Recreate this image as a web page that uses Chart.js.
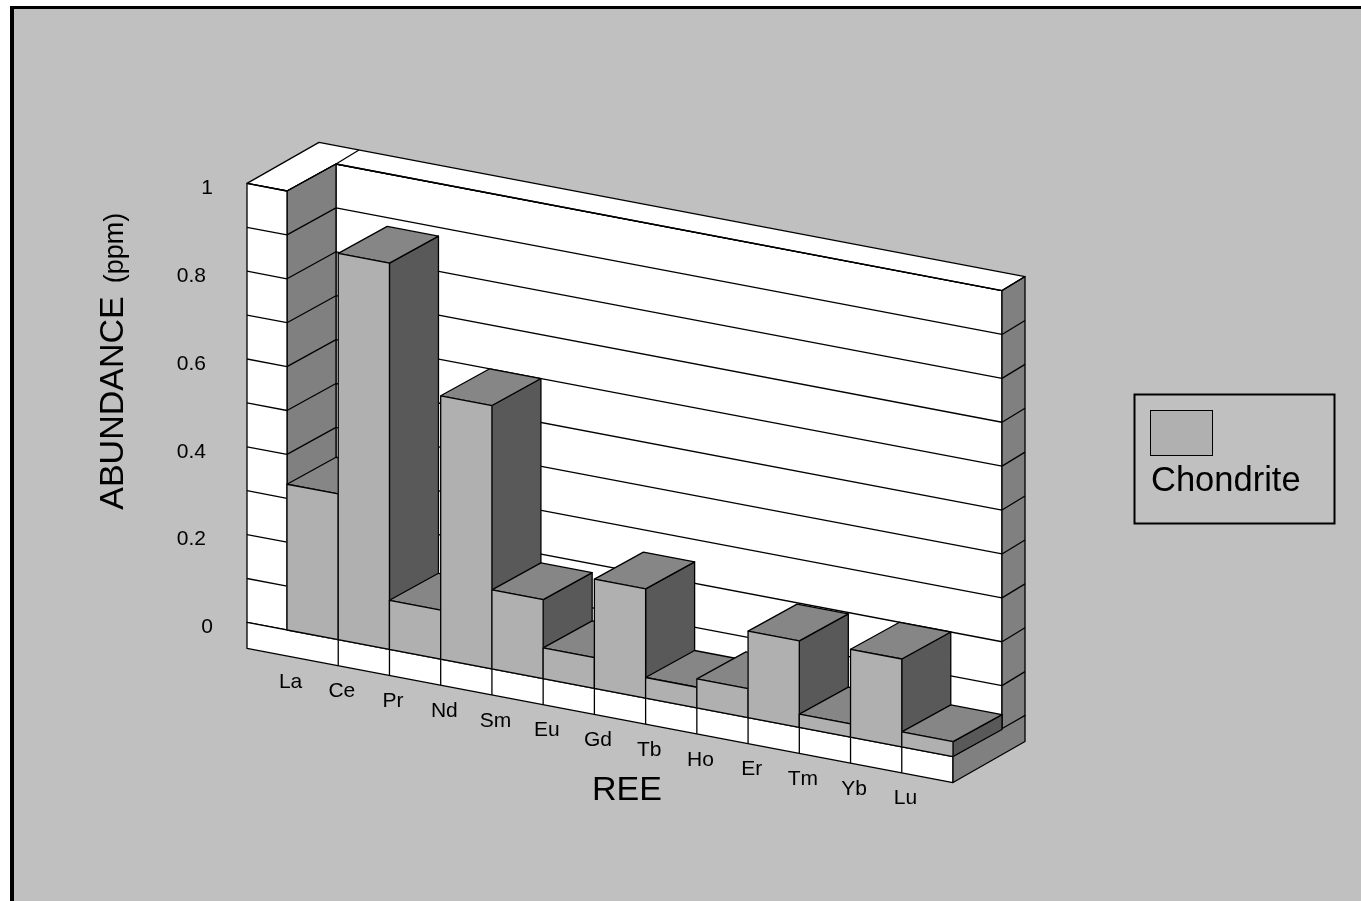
<!DOCTYPE html>
<html>
<head>
<meta charset="utf-8">
<title>REE abundance</title>
<script src="https://cdn.jsdelivr.net/npm/chart.js@4/dist/chart.umd.min.js"></script>
<style>
html, body { margin: 0; padding: 0; background: #fff; overflow: hidden; }
canvas { display: block; }
</style>
</head>
<body>
<canvas id="reeChart" width="1361" height="901"></canvas>
<script>
const elements = ['La', 'Ce', 'Pr', 'Nd', 'Sm', 'Eu', 'Gd', 'Tb', 'Ho', 'Er', 'Tm', 'Yb', 'Lu'];
const chondrite = [0.332, 0.88, 0.112, 0.6, 0.18, 0.07, 0.249, 0.047, 0.066, 0.197, 0.03, 0.2, 0.034];
const seriesName = 'Chondrite';
const xTitle = 'REE';
const yTitle = 'ABUNDANCE';
const yUnit = '(ppm)';

const FONT = '"Liberation Sans", Arial, sans-serif';
const LINE = '#000';
const WALL = '#fff';
const BG = '#c0c0c0';
const SHADE = '#808080';
const TOP = '#868686';
const FRONT = '#b0b0b0';
const SIDE = '#595959';
const LW = 1.3;

// oblique view: the front plane is sheared, depth goes up and to the right
const SLOPE = 0.19;
const DX = 49, DY = -27;        // bar depth, also the front of the back wall
const CAP_DX = 72, CAP_DY = -41; // full depth of the box
const WALL_W = 40;              // left wall column
const SLAB = 26;                // floor thickness

function poly(ctx, pts, fill) {
    ctx.beginPath();
    pts.forEach((p, i) => i ? ctx.lineTo(p[0], p[1]) : ctx.moveTo(p[0], p[1]));
    ctx.closePath();
    if (fill) {
        ctx.fillStyle = fill;
        ctx.fill();
    }
    ctx.strokeStyle = LINE;
    ctx.lineWidth = LW;
    ctx.lineJoin = 'round';
    ctx.stroke();
}

function seg(ctx, a, b) {
    ctx.beginPath();
    ctx.moveTo(a[0], a[1]);
    ctx.lineTo(b[0], b[1]);
    ctx.strokeStyle = LINE;
    ctx.lineWidth = LW;
    ctx.stroke();
}

function text(ctx, str, x, y, size, align, baseline) {
    ctx.font = size + 'px ' + FONT;
    ctx.fillStyle = '#000';
    ctx.textAlign = align || 'center';
    ctx.textBaseline = baseline || 'middle';
    ctx.fillText(str, x, y);
}

const box3d = {
    id: 'box3d',
    beforeDraw(chart) {
        const ctx = chart.ctx;
        ctx.save();
        ctx.fillStyle = '#fff';
        ctx.fillRect(0, 0, chart.width, chart.height);
        ctx.fillStyle = '#000';
        ctx.fillRect(10, 6, chart.width, chart.height);
        ctx.fillStyle = BG;
        ctx.fillRect(14, 9, chart.width, chart.height);
        ctx.restore();
    },
    // walls, floor and grid come first, the bars then paint over them
    beforeDatasetsDraw(chart) {
        const ctx = chart.ctx;
        const xs = chart.scales.x, ys = chart.scales.y;
        const l = xs.left, r = xs.right;
        const shear = (x, y) => [x, y + (x - l) * SLOPE];
        const y0 = ys.getPixelForValue(0), y1 = ys.getPixelForValue(1);
        const back = p => [p[0] + DX, p[1] + DY];
        const cap = p => [p[0] + CAP_DX, p[1] + CAP_DY];
        const rwOuter = p => [p[0] + CAP_DX - DX, p[1] + CAP_DY - DY];

        ctx.save();
        const oTop = shear(l - WALL_W, y1), oBot = shear(l - WALL_W, y0);
        const iTop = shear(l, y1), iBot = shear(l, y0);
        const rTop = shear(r, y1), rBot = shear(r, y0);

        // back wall
        poly(ctx, [back(iTop), back(rTop), back(rBot), back(iBot)], WALL);
        // right wall side
        poly(ctx, [back(rTop), rwOuter(back(rTop)), rwOuter(back(rBot)), back(rBot)], SHADE);
        // top cap
        poly(ctx, [oTop, cap(oTop), rwOuter(back(rTop)), back(rTop), back(iTop), iTop], WALL);
        seg(ctx, back(iTop), cap(iTop));
        // left wall inside face and front
        poly(ctx, [iTop, back(iTop), back(iBot), iBot], SHADE);
        poly(ctx, [oTop, iTop, iBot, oBot], WALL);

        // grid
        ys.ticks.forEach(t => {
            if (t.value === 0) return;
            const y = ys.getPixelForValue(t.value);
            seg(ctx, shear(l - WALL_W, y), shear(l, y));
            seg(ctx, shear(l, y), back(shear(l, y)));
            seg(ctx, back(shear(l, y)), back(shear(r, y)));
            seg(ctx, back(shear(r, y)), rwOuter(back(shear(r, y))));
        });

        // floor slab
        poly(ctx, [oBot, rBot, [rBot[0], rBot[1] + SLAB], [oBot[0], oBot[1] + SLAB]], WALL);
        const rOut = rwOuter(back(rBot));
        poly(ctx, [rBot, rOut, [rOut[0], rOut[1] + SLAB], [rBot[0], rBot[1] + SLAB]], SHADE);
        xs.ticks.forEach((t, i) => {
            if (i === 0) return;
            const x = xs.getPixelForTick(i) - (xs.getPixelForTick(1) - xs.getPixelForTick(0)) / 2;
            const p = shear(x, y0);
            seg(ctx, p, [p[0], p[1] + SLAB]);
        });
        ctx.restore();
    },
    // front faces are the library's own bars, drawn through a shear
    beforeDatasetDraw(chart, args) {
        const ctx = chart.ctx;
        const l = chart.scales.x.left;
        const shear = (x, y) => [x, y + (x - l) * SLOPE];
        chart.getDatasetMeta(args.index).data.forEach(bar => {
            const p = bar.getProps(['x', 'y', 'base', 'width'], true);
            const xa = p.x - p.width / 2, xb = p.x + p.width / 2;
            const tl = shear(xa, p.y), tr = shear(xb, p.y);
            const bl = shear(xa, p.base), br = shear(xb, p.base);
            const d = q => [q[0] + DX, q[1] + DY];
            ctx.save();
            poly(ctx, [tr, d(tr), d(br), br], SIDE);
            poly(ctx, [tl, d(tl), d(tr), tr], TOP);
            ctx.transform(1, SLOPE, 0, 1, 0, -l * SLOPE);
            bar.draw(ctx);
            ctx.setTransform(1, 0, 0, 1, 0, 0);
            poly(ctx, [tl, tr, br, bl]);
            ctx.restore();
        });
        return false;
    },
    afterDraw(chart) {
        const ctx = chart.ctx;
        const xs = chart.scales.x, ys = chart.scales.y;
        const l = xs.left;
        ctx.save();
        // value labels, every second grid line
        ys.ticks.forEach(t => {
            if (t.label === '') return;
            const y = ys.getPixelForValue(t.value) - WALL_W * SLOPE + 5;
            text(ctx, t.label, t.label.length > 1 ? 206 : 213, y, 21, 'right');
        });
        // category labels follow the slanted floor
        xs.ticks.forEach((t, i) => {
            const x = xs.getPixelForTick(i);
            const y = ys.getPixelForValue(0) + (x - l) * SLOPE + 47;
            text(ctx, elements[i], x - 22, y, 21);
        });
        text(ctx, xTitle, 627, 791, 34);
        // axis title, big name and small unit on one baseline
        ctx.translate(123, 0);
        ctx.rotate(-Math.PI / 2);
        text(ctx, yTitle, -403, 0, 34, 'center', 'alphabetic');
        text(ctx, yUnit, -248, 0, 27, 'center', 'alphabetic');
        ctx.rotate(Math.PI / 2);
        ctx.translate(-123, 0);
        // legend
        ctx.strokeStyle = LINE;
        ctx.lineWidth = 2;
        ctx.strokeRect(1134.5, 394.5, 200, 129);
        ctx.lineWidth = 1;
        ctx.fillStyle = FRONT;
        ctx.fillRect(1150.5, 410.5, 62, 45);
        ctx.strokeRect(1150.5, 410.5, 62, 45);
        text(ctx, seriesName, 1151, 481, 34.5, 'left');
        ctx.restore();
    }
};

new Chart(document.getElementById('reeChart'), {
    type: 'bar',
    data: {
        labels: elements,
        datasets: [{
            label: seriesName,
            data: chondrite,
            backgroundColor: FRONT,
            borderWidth: 0,
            categoryPercentage: 1,
            barPercentage: 1
        }]
    },
    options: {
        responsive: false,
        animation: false,
        layout: { padding: { left: 287, right: 408, top: 191, bottom: 271 } },
        plugins: { legend: { display: false }, tooltip: { enabled: false } },
        scales: {
            x: { display: false },
            y: {
                display: false,
                min: 0,
                max: 1,
                ticks: {
                    stepSize: 0.1,
                    callback: v => (Math.round(v * 10) % 2 === 0 ? String(Math.round(v * 10) / 10) : '')
                }
            }
        }
    },
    plugins: [box3d]
});
</script>
</body>
</html>
